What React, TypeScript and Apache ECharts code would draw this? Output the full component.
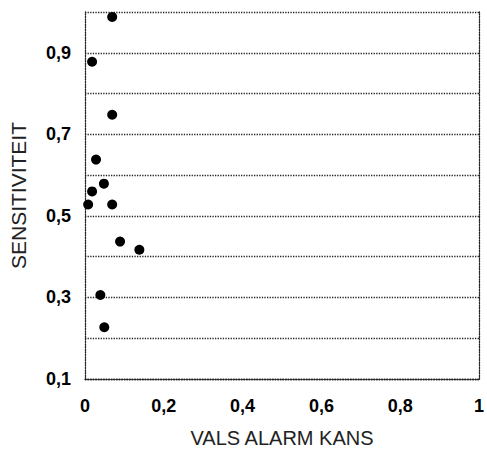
import React, { useEffect, useRef } from "react";
import * as echarts from "echarts";

const falseAlarm = [0.069, 0.018, 0.069, 0.028, 0.048, 0.018, 0.008, 0.069, 0.089, 0.138, 0.039, 0.049];
const sensitivity = [0.988, 0.878, 0.748, 0.638, 0.579, 0.56, 0.528, 0.528, 0.437, 0.417, 0.306, 0.227];
const xTickLabels = ["0", "0,2", "0,4", "0,6", "0,8", "1"];
const yTickLabels = ["0,1", "", "0,3", "", "0,5", "", "0,7", "", "0,9", ""];

export default function App() {
  const ref = useRef<HTMLDivElement>(null);
  useEffect(() => {
    const chart = echarts.init(ref.current!, null, { renderer: "svg" });
    const points = falseAlarm.map((x, i) => [x, sensitivity[i]]);
    const lineStyle = { color: "#222", type: "dotted" as const, width: 1.3 };
    chart.setOption({
      animation: false,
      backgroundColor: "#fff",
      grid: { left: 84, right: 3, top: 12, bottom: 70 },
      xAxis: {
        type: "value",
        min: 0,
        max: 1,
        interval: 0.2,
        name: "VALS ALARM KANS",
        nameLocation: "middle",
        nameGap: 49,
        nameTextStyle: { fontFamily: "Liberation Sans", fontSize: 20, color: "#222" },
        axisLine: { show: true, lineStyle },
        axisTick: { show: false },
        splitLine: { show: false },
        axisLabel: {
          margin: 18,
          fontFamily: "Liberation Sans",
          fontWeight: "bold",
          fontSize: 18,
          color: "#000",
          formatter: (v: number) => xTickLabels[Math.round(v * 5)] ?? "",
        },
      },
      yAxis: [
        {
          type: "value",
          min: 0.1,
          max: 1,
          interval: 0.1,
          name: "SENSITIVITEIT",
          nameLocation: "middle",
          nameGap: 56,
          nameTextStyle: { fontFamily: "Liberation Sans", fontSize: 21, color: "#222" },
          axisLine: { show: true, lineStyle },
          axisTick: { show: false },
          splitLine: { show: true, lineStyle },
          axisLabel: {
            margin: 14,
            fontFamily: "Liberation Sans",
            fontWeight: "bold",
            fontSize: 18,
            color: "#000",
            formatter: (v: number) => yTickLabels[Math.round(v * 10) - 1] ?? "",
          },
        },
        {
          type: "value",
          position: "right",
          min: 0.1,
          max: 1,
          interval: 0.1,
          axisLine: { show: true, onZero: false, lineStyle },
          axisTick: { show: false },
          axisLabel: { show: false },
          splitLine: { show: false },
        },
      ],
      series: [
        {
          type: "scatter",
          data: points,
          symbolSize: 10,
          itemStyle: { color: "#000", opacity: 1 },
        },
      ],
    });
    return () => chart.dispose();
  }, []);
  return (
    <div
      ref={ref}
      style={{ position: "fixed", left: 0, top: 0, width: 487, height: 453 }}
    />
  );
}
